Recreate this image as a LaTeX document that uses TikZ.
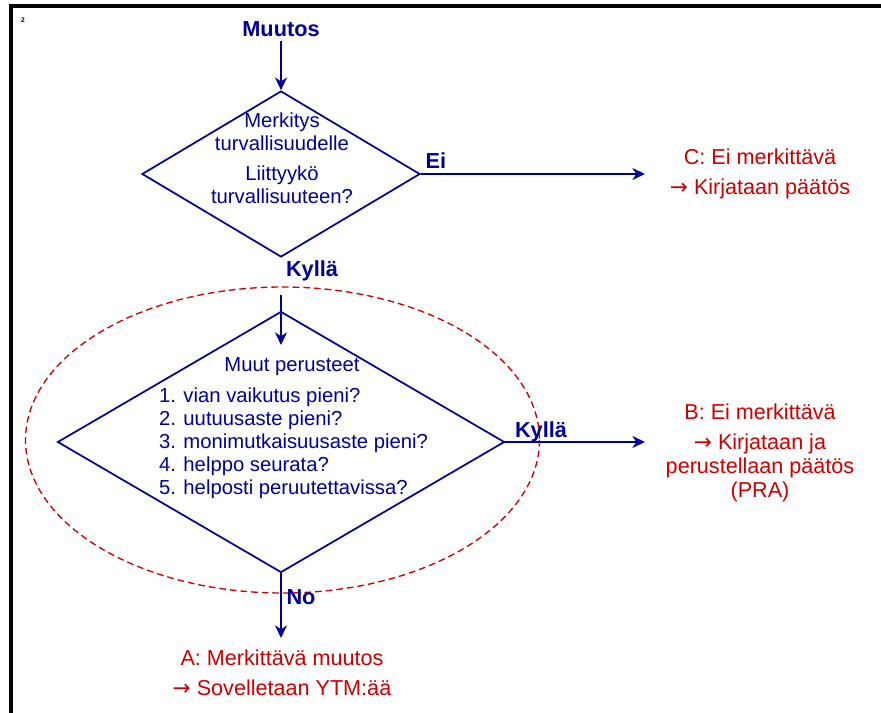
\documentclass[tikz,border=0pt]{standalone}
\usepackage{fontspec}
\setmainfont{Liberation Sans}
\newfontfamily\arrowfont{DejaVu Sans}
\usetikzlibrary{shapes.geometric,arrows.meta}
\definecolor{flowblue}{RGB}{0,0,153}
\definecolor{flowred}{RGB}{204,0,0}
\newcommand{\thento}{{\arrowfont →}}

\begin{document}
\begin{tikzpicture}[x=0.75pt,y=-0.75pt,
    font=\fontsize{15.2}{17.3}\selectfont,
    decision/.style={diamond, draw=flowblue, line width=1.3pt, inner sep=0pt},
    lbl/.style={text=flowblue, font=\fontsize{16.3}{19}\selectfont\bfseries},
    outcome/.style={text=flowred, align=center, font=\fontsize{16.2}{17.8}\selectfont},
    flow/.style={flowblue, line width=1.3pt, -{Stealth[length=9.5pt,width=9pt,inset=3pt]}}]
    \useasboundingbox (0,0) rectangle (881,713);

    % Frame and page number
    \draw[line width=3pt] (11,713) -- (11,6) -- (881,6);
    \node[font=\fontsize{5}{6}\selectfont\bfseries] (page) at (23,20) {2};

    % First decision
    \node[lbl] (muutos) at (281,29) {Muutos};
    \node[decision, minimum width=208.5pt, minimum height=124.5pt] (d1) at (281,174) {};
    \node[text=flowblue, align=center] (q1) at (282,158.5)
        {Merkitys\\turvallisuudelle\\[5pt]Liittyykö\\turvallisuuteen?};
    \draw[flow] (muutos) -- (d1.north);

    % Not relevant: C
    \coordinate (cin) at (645,174);
    \node[lbl] (ei) at (436,161) {Ei};
    \node[outcome] (outc) at (760,174) {C: Ei merkittävä\\[5pt]\thento{} Kirjataan päätös};
    \draw[flow] (d1.east) -- (cin);

    % Second decision inside the dashed ellipse
    \node[lbl] (kylla1) at (312,271) {Kyllä};
    \draw[flowred, line width=1pt, dash pattern=on 5pt off 3pt] (282.5,440) ellipse (257 and 153);
    \node[decision, minimum width=335.25pt, minimum height=195.75pt] (d2) at (281,442) {};
    \node[text=flowblue] (q2) at (292,367) {Muut perusteet};
    \node[text=flowblue, align=left] (crit) at (293.5,443)
        {1. vian vaikutus pieni?\\2. uutuusaste pieni?\\3. monimutkaisuusaste pieni?\\4. helppo seurata?\\5. helposti peruutettavissa?};
    \coordinate (kin) at (281,295);
    \coordinate (kout) at (281,345);
    \draw[flow] (kin) -- (kout);

    % Not relevant: B
    \coordinate (bin) at (645,442);
    \node[lbl] (kylla2) at (541,432) {Kyllä};
    \node[outcome] (outb) at (760,452.5)
        {B: Ei merkittävä\\[5pt]\thento{} Kirjataan ja\\perustellaan päätös\\(PRA)};
    \draw[flow] (d2.east) -- (bin);

    % Relevant: A
    \coordinate (ain) at (281,638);
    \node[lbl] (no) at (301,597) {No};
    \node[outcome] (outa) at (282,672.5) {A: Merkittävä muutos\\[5pt]\thento{} Sovelletaan YTM:ää};
    \draw[flow] (d2.south) -- (ain);
\end{tikzpicture}
\end{document}
